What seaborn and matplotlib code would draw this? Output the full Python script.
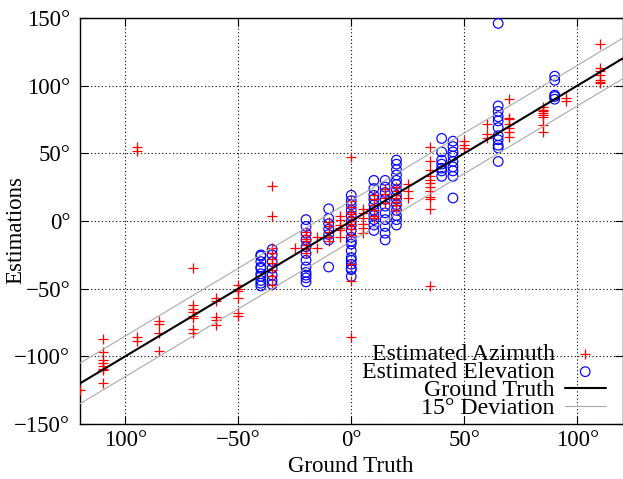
import matplotlib
matplotlib.use("Agg")
import matplotlib.pyplot as plt
import seaborn as sns
import pandas as pd

# ---- data ----
az_truth = [-120, -110, -95, -85, -70, -60, -50, -35, -25, -20, -15, -10, -5, 0,
            5, 10, 15, 20, 25, 35, 50, 60, 70, 85, 95, 110, 120]
az_estimates = [
    [-125],
    [-87, -97, -103, -105, -107, -109, -110, -120],
    [55, 52, -86, -89],
    [-74, -76, -83, -96],
    [-35, -62, -65, -67, -70, -72, -80, -83],
    [-57, -59, -71, -73, -77],
    [-47, -50, -52, -57, -68, -70],
    [26, 4, -20, -24, -28, -31, -36, -41, -47],
    [-20],
    [-8, -10, -13, -15, -18, -20, -24],
    [-12, -20],
    [-1, -4, -8, -12, -15],
    [4, 1, -3, -5, -7, -12],
    [47, 15, 10, 7, 5, 3, 0, -2, -4, -6, -10, -32, -44, -86],
    [9, 6, 2, -2, -5, -9],
    [19, 16, 12, 8, 4, 2],
    [24, 20, 17, 13],
    [25, 22, 19, 17, 14, 12, 8],
    [27, 22, 17],
    [55, 44, 38, 33, 30, 28, 25, 22, 18, 16, 9, -48],
    [59, 56, 54],
    [72, 64, 61],
    [90, 76, 75, 72, 69, 66, 62],
    [84, 82, 81, 80, 78, 77, 71, 66],
    [91, 89],
    [131, 113, 111, 108, 104, 103, 102],
    [120],
]

el_truth = [-40, -35, -20, -10, 0, 10, 15, 20, 40, 45, 65, 90]
el_estimates = [
    [-25, -26, -30, -34, -35, -39, -41, -44, -46, -48],
    [-21, -25, -30, -35, -40, -44, -47],
    [1, -4, -9, -14, -19, -24, -29, -34, -38, -40, -42, -45],
    [9, 2, -2, -6, -10, -14, -34],
    [19, 15, 12, 8, 4, 0, -3, -7, -12, -15, -17, -22, -27, -29, -32, -35, -36, -41],
    [30, 24, 19, 16, 12, 8, 4, 1, -3, -7],
    [30, 25, 21, 16, 11, 6, 1, -4, -9, -14],
    [45, 42, 38, 34, 30, 27, 23, 19, 16, 12, 8, 4, 1, -3],
    [61, 51, 45, 42, 39, 37, 33],
    [59, 55, 51, 48, 44, 40, 37, 33, 17],
    [146, 85, 81, 77, 74, 69, 63, 60, 56, 54, 44],
    [107, 104, 93, 92, 90],
]

line_x = [-120, 120]
truth_y = [-120, 120]
upper_y = [-105, 135]
lower_y = [-135, 105]

x_ticks = [-100, -50, 0, 50, 100]
x_ticklabels = ["100°", "−50°", "0°", "50°", "100°"]
y_ticks = [-150, -100, -50, 0, 50, 100, 150]
y_ticklabels = ["−150°", "−100°", "−50°", "0°", "50°", "100°", "150°"]

az_df = pd.DataFrame({
    "truth": [t for t, vals in zip(az_truth, az_estimates) for _ in vals],
    "est": [v for vals in az_estimates for v in vals],
})
el_df = pd.DataFrame({
    "truth": [t for t, vals in zip(el_truth, el_estimates) for _ in vals],
    "est": [v for vals in el_estimates for v in vals],
})

# ---- style ----
sns.set_theme(style="ticks")
plt.rcParams["font.family"] = ["Liberation Serif", "DejaVu Serif"]
plt.rcParams["axes.unicode_minus"] = True
FS = 16.5
LFS = 17.2

fig = plt.figure(figsize=(6.23, 4.79), dpi=100)
ax = fig.add_axes([80 / 623, 1 - 424 / 479, 542.5 / 623, 406 / 479])

sns.scatterplot(data=el_df, x="truth", y="est", ax=ax, marker="o", s=48,
                facecolor="none", edgecolor="#0000ff", linewidth=0.85,
                label="Estimated Elevation", zorder=3)
sns.scatterplot(data=az_df, x="truth", y="est", ax=ax, marker="+", s=62,
                color="#ff0000", linewidth=0.9,
                label="Estimated Azimuth", zorder=4)
sns.lineplot(x=line_x, y=truth_y, ax=ax, color="black", linewidth=1.5,
             label="Ground Truth", zorder=5)
sns.lineplot(x=line_x, y=upper_y, ax=ax, color="#aaaaaa", linewidth=0.8,
             label="15° Deviation", zorder=5)
sns.lineplot(x=line_x, y=lower_y, ax=ax, color="#aaaaaa", linewidth=0.8,
             label="_nolegend_", zorder=5)

ax.set_xlim(-120, 120)
ax.set_ylim(-150, 150)
ax.set_xticks(x_ticks)
ax.set_xticklabels(x_ticklabels, fontsize=FS)
ax.set_yticks(y_ticks)
ax.set_yticklabels(y_ticklabels, fontsize=FS)
ax.tick_params(direction="in", top=True, right=True, length=6, width=0.8,
               color="black", labelcolor="black")
ax.tick_params(axis="x", pad=4)
ax.tick_params(axis="y", pad=7)
ax.grid(True, color="black", linestyle=(0, (1, 2.2)), linewidth=0.8)
ax.set_axisbelow(True)
for sp in ax.spines.values():
    sp.set_color("black")
    sp.set_linewidth(1.0)

ax.set_xlabel("Ground Truth", fontsize=FS, color="black", labelpad=4)
ax.set_ylabel("Estimations", fontsize=FS, color="black")
ax.yaxis.set_label_coords(-0.099, 0.478)

handles, labels = ax.get_legend_handles_labels()
order = ["Estimated Azimuth", "Estimated Elevation", "Ground Truth", "15° Deviation"]
hmap = dict(zip(labels, handles))
leg = ax.legend([hmap[k] for k in order], order, loc="lower right",
                bbox_to_anchor=(0.978, 0.0), frameon=False, markerfirst=False,
                fontsize=LFS, labelspacing=-0.15, handlelength=1.72,
                handletextpad=0.42, borderpad=0.0, borderaxespad=0.2,
                scatterpoints=1)
for t in leg.get_texts():
    t.set_color("black")

fig.savefig("out.png", dpi=100)
